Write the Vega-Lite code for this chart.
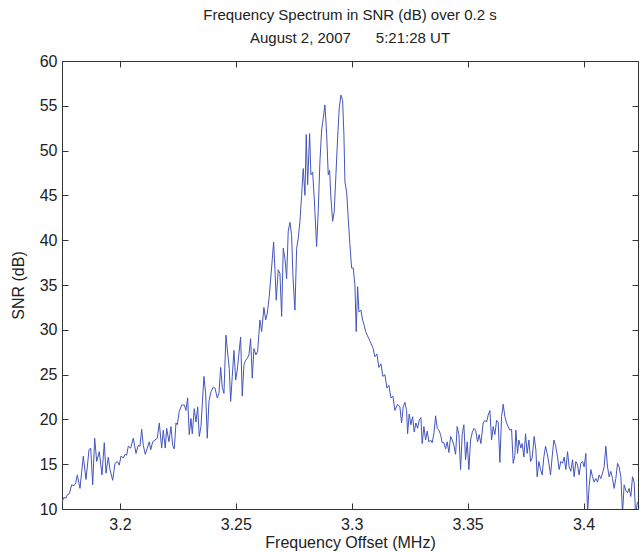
{
  "$schema": "https://vega.github.io/schema/vega-lite/v6.json",
  "width": 576,
  "height": 448,
  "autosize": {"type": "none"},
  "padding": {"left": 62, "top": 61, "right": 3, "bottom": 44},
  "background": "white",
  "title": {
    "text": ["Frequency Spectrum in SNR (dB) over 0.2 s", "August 2, 2007\u00a0\u00a0\u00a0\u00a0\u00a0 5:21:28 UT"],
    "font": "Liberation Sans",
    "fontSize": 15,
    "fontWeight": "normal",
    "color": "#222222",
    "lineHeight": 23,
    "offset": 7,
    "anchor": "middle"
  },
  "config": {
    "view": {"stroke": "#333333", "strokeWidth": 1},
    "axis": {
      "grid": false,
      "domain": false,
      "tickColor": "#333333",
      "tickSize": -6,
      "labelFont": "Liberation Sans",
      "labelFontSize": 16,
      "labelColor": "#222222",
      "titleFont": "Liberation Sans",
      "titleFontSize": 16,
      "titleFontWeight": "normal",
      "titleColor": "#222222"
    }
  },
  "data": {
    "values": [
      {"f": 3.17500, "snr": 10.8}, {"f": 3.17586, "snr": 11.3}, {"f": 3.17673, "snr": 11.2}, {"f": 3.17729, "snr": 11.6},
      {"f": 3.17815, "snr": 11.7}, {"f": 3.17918, "snr": 12.7}, {"f": 3.18018, "snr": 12.6}, {"f": 3.18091, "snr": 12.9},
      {"f": 3.18160, "snr": 13.8}, {"f": 3.18276, "snr": 12.3}, {"f": 3.18419, "snr": 15.9}, {"f": 3.18535, "snr": 13.3},
      {"f": 3.18665, "snr": 16.6}, {"f": 3.18738, "snr": 16.8}, {"f": 3.18824, "snr": 12.7}, {"f": 3.18910, "snr": 17.9},
      {"f": 3.18997, "snr": 15.3}, {"f": 3.19109, "snr": 16.4}, {"f": 3.19225, "snr": 13.8}, {"f": 3.19324, "snr": 17.4},
      {"f": 3.19398, "snr": 14.0}, {"f": 3.19497, "snr": 15.8}, {"f": 3.19570, "snr": 14.4}, {"f": 3.19687, "snr": 13.2},
      {"f": 3.19786, "snr": 15.1}, {"f": 3.19885, "snr": 15.3}, {"f": 3.19971, "snr": 14.9}, {"f": 3.20045, "snr": 15.9},
      {"f": 3.20144, "snr": 15.7}, {"f": 3.20217, "snr": 16.1}, {"f": 3.20290, "snr": 16.0}, {"f": 3.20359, "snr": 17.0},
      {"f": 3.20463, "snr": 16.8}, {"f": 3.20575, "snr": 17.9}, {"f": 3.20692, "snr": 16.2}, {"f": 3.20791, "snr": 17.1},
      {"f": 3.20864, "snr": 17.0}, {"f": 3.20937, "snr": 18.9}, {"f": 3.21006, "snr": 17.1}, {"f": 3.21093, "snr": 16.1},
      {"f": 3.21179, "snr": 16.8}, {"f": 3.21265, "snr": 17.5}, {"f": 3.21326, "snr": 16.6}, {"f": 3.21412, "snr": 17.5},
      {"f": 3.21511, "snr": 17.7}, {"f": 3.21610, "snr": 17.9}, {"f": 3.21697, "snr": 19.6}, {"f": 3.21800, "snr": 16.8},
      {"f": 3.21869, "snr": 18.8}, {"f": 3.21955, "snr": 16.8}, {"f": 3.22016, "snr": 19.0}, {"f": 3.22115, "snr": 17.5},
      {"f": 3.22201, "snr": 19.2}, {"f": 3.22274, "snr": 17.1}, {"f": 3.22344, "snr": 16.7}, {"f": 3.22417, "snr": 19.6},
      {"f": 3.22473, "snr": 19.4}, {"f": 3.22559, "snr": 20.9}, {"f": 3.22663, "snr": 21.6}, {"f": 3.22775, "snr": 21.6},
      {"f": 3.22848, "snr": 21.0}, {"f": 3.22921, "snr": 22.4}, {"f": 3.22990, "snr": 18.3}, {"f": 3.23064, "snr": 20.1},
      {"f": 3.23120, "snr": 18.4}, {"f": 3.23206, "snr": 21.2}, {"f": 3.23279, "snr": 19.7}, {"f": 3.23353, "snr": 21.4},
      {"f": 3.23422, "snr": 18.1}, {"f": 3.23495, "snr": 19.2}, {"f": 3.23624, "snr": 24.8}, {"f": 3.23698, "snr": 22.9},
      {"f": 3.23767, "snr": 17.9}, {"f": 3.23840, "snr": 22.0}, {"f": 3.23926, "snr": 23.1}, {"f": 3.24026, "snr": 23.6},
      {"f": 3.24099, "snr": 23.5}, {"f": 3.24198, "snr": 22.4}, {"f": 3.24271, "snr": 22.9}, {"f": 3.24345, "snr": 25.8},
      {"f": 3.24414, "snr": 23.6}, {"f": 3.24487, "snr": 22.9}, {"f": 3.24573, "snr": 29.4}, {"f": 3.24647, "snr": 27.4},
      {"f": 3.24716, "snr": 25.7}, {"f": 3.24776, "snr": 22.0}, {"f": 3.24845, "snr": 24.8}, {"f": 3.24918, "snr": 27.7},
      {"f": 3.24992, "snr": 24.4}, {"f": 3.25061, "snr": 25.5}, {"f": 3.25134, "snr": 27.4}, {"f": 3.25207, "snr": 29.2},
      {"f": 3.25276, "snr": 22.6}, {"f": 3.25350, "snr": 26.1}, {"f": 3.25423, "snr": 26.6}, {"f": 3.25492, "snr": 26.8},
      {"f": 3.25565, "snr": 27.2}, {"f": 3.25638, "snr": 29.0}, {"f": 3.25708, "snr": 24.6}, {"f": 3.25781, "snr": 27.9},
      {"f": 3.25867, "snr": 27.2}, {"f": 3.25940, "snr": 27.6}, {"f": 3.26040, "snr": 31.1}, {"f": 3.26113, "snr": 29.8},
      {"f": 3.26212, "snr": 32.5}, {"f": 3.26285, "snr": 31.1}, {"f": 3.26354, "snr": 31.8}, {"f": 3.26441, "snr": 33.7},
      {"f": 3.26544, "snr": 37.0}, {"f": 3.26630, "snr": 39.8}, {"f": 3.26687, "snr": 36.7}, {"f": 3.26743, "snr": 33.3},
      {"f": 3.26829, "snr": 36.7}, {"f": 3.26902, "snr": 36.3}, {"f": 3.26976, "snr": 31.5}, {"f": 3.27045, "snr": 39.1},
      {"f": 3.27118, "snr": 38.0}, {"f": 3.27191, "snr": 35.7}, {"f": 3.27260, "snr": 41.0}, {"f": 3.27334, "snr": 42.0},
      {"f": 3.27407, "snr": 40.5}, {"f": 3.27463, "snr": 36.0}, {"f": 3.27549, "snr": 32.2}, {"f": 3.27623, "snr": 39.1},
      {"f": 3.27692, "snr": 40.2}, {"f": 3.27765, "snr": 42.1}, {"f": 3.27838, "snr": 45.0}, {"f": 3.27907, "snr": 48.0},
      {"f": 3.27981, "snr": 45.0}, {"f": 3.28037, "snr": 51.8}, {"f": 3.28097, "snr": 46.2}, {"f": 3.28183, "snr": 51.9},
      {"f": 3.28239, "snr": 47.3}, {"f": 3.28313, "snr": 47.6}, {"f": 3.28382, "snr": 44.7}, {"f": 3.28485, "snr": 39.3},
      {"f": 3.28554, "snr": 43.2}, {"f": 3.28628, "snr": 48.8}, {"f": 3.28701, "snr": 52.3}, {"f": 3.28770, "snr": 53.6},
      {"f": 3.28843, "snr": 55.1}, {"f": 3.28917, "snr": 51.9}, {"f": 3.28986, "snr": 47.3}, {"f": 3.29046, "snr": 47.8},
      {"f": 3.29102, "snr": 44.7}, {"f": 3.29175, "snr": 42.1}, {"f": 3.29244, "snr": 43.2}, {"f": 3.29318, "snr": 47.3},
      {"f": 3.29391, "snr": 51.4}, {"f": 3.29460, "snr": 54.7}, {"f": 3.29533, "snr": 56.2}, {"f": 3.29607, "snr": 55.6},
      {"f": 3.29663, "snr": 51.7}, {"f": 3.29706, "snr": 46.5}, {"f": 3.29779, "snr": 45.4}, {"f": 3.29848, "snr": 42.5},
      {"f": 3.29921, "snr": 39.5}, {"f": 3.29995, "snr": 36.9}, {"f": 3.30064, "snr": 36.9}, {"f": 3.30137, "snr": 35.0},
      {"f": 3.30193, "snr": 29.8}, {"f": 3.30254, "snr": 34.8}, {"f": 3.30310, "snr": 32.0}, {"f": 3.30396, "snr": 32.2},
      {"f": 3.30469, "snr": 31.1}, {"f": 3.30538, "snr": 30.5}, {"f": 3.30599, "snr": 29.8}, {"f": 3.30685, "snr": 29.3},
      {"f": 3.30741, "snr": 29.0}, {"f": 3.30827, "snr": 28.5}, {"f": 3.30913, "snr": 28.0}, {"f": 3.31000, "snr": 27.0},
      {"f": 3.31086, "snr": 27.3}, {"f": 3.31172, "snr": 25.8}, {"f": 3.31258, "snr": 26.2}, {"f": 3.31344, "snr": 24.8},
      {"f": 3.31431, "snr": 25.0}, {"f": 3.31517, "snr": 23.5}, {"f": 3.31603, "snr": 23.8}, {"f": 3.31690, "snr": 22.4},
      {"f": 3.31776, "snr": 22.6}, {"f": 3.31862, "snr": 21.0}, {"f": 3.31978, "snr": 21.7}, {"f": 3.32078, "snr": 21.4},
      {"f": 3.32151, "snr": 19.6}, {"f": 3.32220, "snr": 21.4}, {"f": 3.32294, "snr": 21.9}, {"f": 3.32367, "snr": 21.0},
      {"f": 3.32410, "snr": 18.4}, {"f": 3.32479, "snr": 20.6}, {"f": 3.32552, "snr": 19.4}, {"f": 3.32626, "snr": 20.3},
      {"f": 3.32695, "snr": 18.6}, {"f": 3.32768, "snr": 19.6}, {"f": 3.32841, "snr": 19.0}, {"f": 3.32910, "snr": 19.9},
      {"f": 3.32984, "snr": 20.2}, {"f": 3.33040, "snr": 17.3}, {"f": 3.33113, "snr": 19.2}, {"f": 3.33186, "snr": 17.7},
      {"f": 3.33256, "snr": 18.7}, {"f": 3.33329, "snr": 17.5}, {"f": 3.33402, "snr": 17.7}, {"f": 3.33471, "snr": 17.4},
      {"f": 3.33544, "snr": 18.4}, {"f": 3.33618, "snr": 20.4}, {"f": 3.33687, "snr": 19.0}, {"f": 3.33760, "snr": 18.8},
      {"f": 3.33833, "snr": 18.3}, {"f": 3.33903, "snr": 17.4}, {"f": 3.33976, "snr": 17.4}, {"f": 3.34049, "snr": 16.7},
      {"f": 3.34118, "snr": 17.5}, {"f": 3.34192, "snr": 16.3}, {"f": 3.34265, "snr": 18.1}, {"f": 3.34334, "snr": 17.7},
      {"f": 3.34407, "snr": 17.1}, {"f": 3.34480, "snr": 16.1}, {"f": 3.34549, "snr": 19.2}, {"f": 3.34623, "snr": 18.3},
      {"f": 3.34696, "snr": 14.4}, {"f": 3.34765, "snr": 18.3}, {"f": 3.34838, "snr": 19.4}, {"f": 3.34911, "snr": 15.5},
      {"f": 3.34981, "snr": 17.5}, {"f": 3.35054, "snr": 14.4}, {"f": 3.35127, "snr": 17.7}, {"f": 3.35196, "snr": 18.5},
      {"f": 3.35270, "snr": 19.0}, {"f": 3.35343, "snr": 18.8}, {"f": 3.35429, "snr": 17.5}, {"f": 3.35498, "snr": 18.3},
      {"f": 3.35571, "snr": 17.3}, {"f": 3.35671, "snr": 19.6}, {"f": 3.35744, "snr": 19.9}, {"f": 3.35817, "snr": 19.7},
      {"f": 3.35887, "snr": 20.5}, {"f": 3.35960, "snr": 21.0}, {"f": 3.36033, "snr": 17.7}, {"f": 3.36102, "snr": 19.2},
      {"f": 3.36175, "snr": 18.3}, {"f": 3.36249, "snr": 19.9}, {"f": 3.36318, "snr": 19.7}, {"f": 3.36391, "snr": 15.2},
      {"f": 3.36464, "snr": 20.3}, {"f": 3.36534, "snr": 21.7}, {"f": 3.36607, "snr": 20.3}, {"f": 3.36680, "snr": 19.6},
      {"f": 3.36749, "snr": 19.2}, {"f": 3.36822, "snr": 18.8}, {"f": 3.36896, "snr": 18.9}, {"f": 3.36965, "snr": 15.1},
      {"f": 3.37038, "snr": 16.0}, {"f": 3.37081, "snr": 18.8}, {"f": 3.37154, "snr": 16.2}, {"f": 3.37210, "snr": 17.7},
      {"f": 3.37297, "snr": 16.8}, {"f": 3.37353, "snr": 17.3}, {"f": 3.37426, "snr": 15.8}, {"f": 3.37499, "snr": 18.4},
      {"f": 3.37568, "snr": 16.2}, {"f": 3.37642, "snr": 17.7}, {"f": 3.37715, "snr": 15.3}, {"f": 3.37784, "snr": 15.7},
      {"f": 3.37870, "snr": 18.1}, {"f": 3.37944, "snr": 16.6}, {"f": 3.38000, "snr": 13.6}, {"f": 3.38073, "snr": 15.3},
      {"f": 3.38146, "snr": 14.4}, {"f": 3.38215, "snr": 13.8}, {"f": 3.38289, "snr": 15.8}, {"f": 3.38362, "snr": 17.0},
      {"f": 3.38431, "snr": 16.2}, {"f": 3.38504, "snr": 15.1}, {"f": 3.38577, "snr": 13.8}, {"f": 3.38646, "snr": 15.8},
      {"f": 3.38720, "snr": 17.7}, {"f": 3.38793, "snr": 17.1}, {"f": 3.38879, "snr": 15.8}, {"f": 3.38948, "snr": 14.4},
      {"f": 3.39021, "snr": 15.3}, {"f": 3.39095, "snr": 15.1}, {"f": 3.39164, "snr": 15.8}, {"f": 3.39237, "snr": 14.4},
      {"f": 3.39310, "snr": 16.4}, {"f": 3.39379, "snr": 14.7}, {"f": 3.39452, "snr": 14.2}, {"f": 3.39526, "snr": 15.5},
      {"f": 3.39595, "snr": 13.6}, {"f": 3.39668, "snr": 15.3}, {"f": 3.39741, "snr": 14.9}, {"f": 3.39810, "snr": 13.8},
      {"f": 3.39884, "snr": 15.1}, {"f": 3.39957, "snr": 15.3}, {"f": 3.40026, "snr": 14.7}, {"f": 3.40100, "snr": 16.2},
      {"f": 3.40173, "snr": 9.5}, {"f": 3.40242, "snr": 12.5}, {"f": 3.40315, "snr": 14.4}, {"f": 3.40389, "snr": 13.6},
      {"f": 3.40458, "snr": 13.0}, {"f": 3.40531, "snr": 13.4}, {"f": 3.40604, "snr": 13.0}, {"f": 3.40673, "snr": 13.8},
      {"f": 3.40747, "snr": 13.4}, {"f": 3.40820, "snr": 14.0}, {"f": 3.40889, "snr": 14.7}, {"f": 3.40963, "snr": 17.0},
      {"f": 3.41036, "snr": 14.7}, {"f": 3.41105, "snr": 13.6}, {"f": 3.41178, "snr": 14.2}, {"f": 3.41251, "snr": 13.4},
      {"f": 3.41320, "snr": 12.3}, {"f": 3.41394, "snr": 13.4}, {"f": 3.41467, "snr": 15.1}, {"f": 3.41536, "snr": 14.7},
      {"f": 3.41610, "snr": 13.6}, {"f": 3.41683, "snr": 9.5}, {"f": 3.41752, "snr": 12.7}, {"f": 3.41825, "snr": 12.1},
      {"f": 3.41898, "snr": 11.8}, {"f": 3.41967, "snr": 12.3}, {"f": 3.42041, "snr": 11.4}, {"f": 3.42114, "snr": 13.6},
      {"f": 3.42183, "snr": 13.0}, {"f": 3.42243, "snr": 9.5}, {"f": 3.42330, "snr": 10.8}
    ]
  },
  "resolve": {"axis": {"x": "independent", "y": "independent"}},
  "layer": [
    {
      "mark": {"type": "line", "color": "#4455bb", "strokeWidth": 1, "clip": true},
      "encoding": {
        "x": {
          "field": "f", "type": "quantitative",
          "scale": {"domain": [3.175, 3.4235], "nice": false, "zero": false},
          "axis": {"orient": "bottom", "values": [3.2, 3.25, 3.3, 3.35, 3.4], "format": "~g", "labelPadding": 13, "title": "Frequency Offset (MHz)", "titlePadding": 2}
        },
        "y": {
          "field": "snr", "type": "quantitative",
          "scale": {"domain": [10, 60], "nice": false, "zero": false},
          "axis": {"orient": "left", "values": [10, 15, 20, 25, 30, 35, 40, 45, 50, 55, 60], "labelPadding": 11, "title": "SNR (dB)", "titlePadding": 13}
        }
      }
    },
    {
      "mark": {"type": "line", "strokeOpacity": 0, "clip": true},
      "encoding": {
        "x": {"field": "f", "type": "quantitative", "axis": {"orient": "top", "values": [3.2, 3.25, 3.3, 3.35, 3.4], "labels": false, "title": null}},
        "y": {"field": "snr", "type": "quantitative", "axis": {"orient": "right", "values": [10, 15, 20, 25, 30, 35, 40, 45, 50, 55, 60], "labels": false, "title": null}}
      }
    }
  ]
}
